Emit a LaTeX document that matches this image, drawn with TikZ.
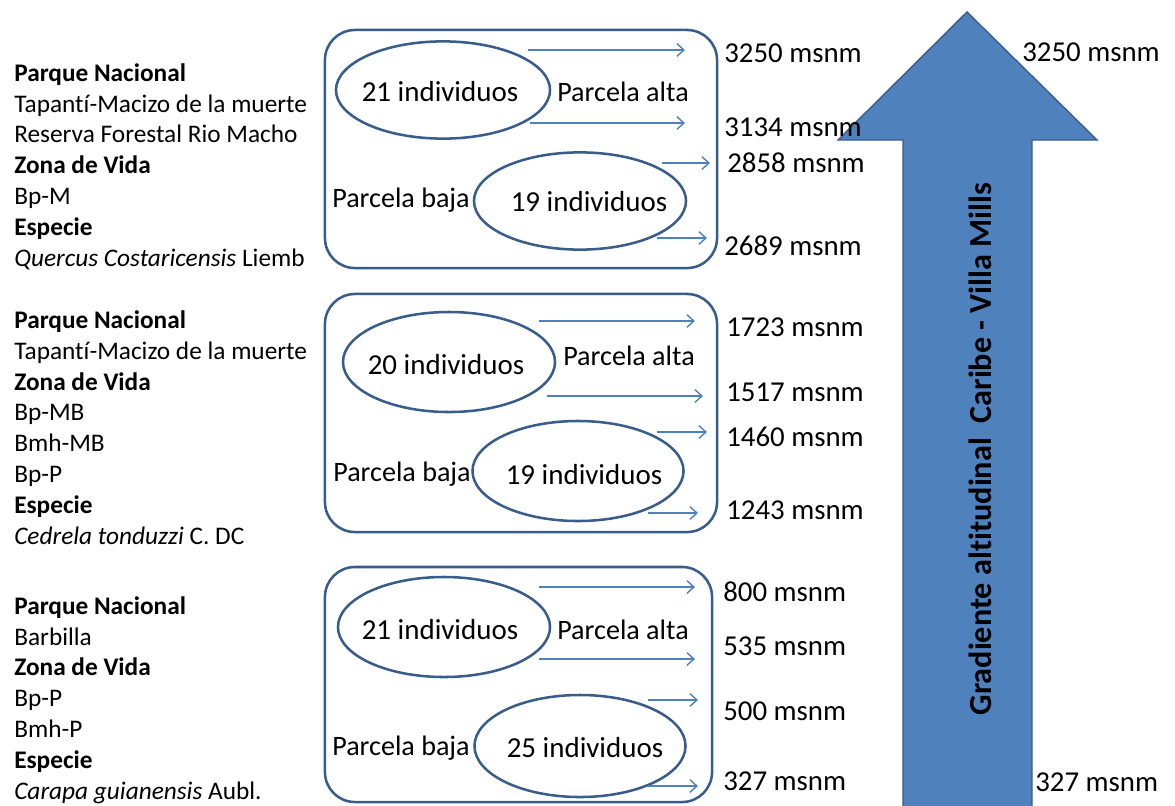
\documentclass[tikz,border=0pt]{standalone}
\usepackage{fontspec}
\setmainfont{Carlito}[Ligatures=NoCommon]
\usepackage{tikz}
\usetikzlibrary{shapes,arrows.meta,positioning}

\definecolor{boxblue}{HTML}{385D8A}
\definecolor{flowblue}{HTML}{4F81BD}
\definecolor{gradfill}{HTML}{4F81BD}

\begin{document}
\begin{tikzpicture}[
    x=0.025cm, y=-0.025cm,
    every node/.style={inner sep=0pt},
    zone/.style={rectangle, draw=boxblue, line width=1.8pt, rounded corners=0.75cm},
    plot/.style={ellipse, draw=boxblue, line width=1.8pt, minimum width=5.3cm, minimum height=2.5cm},
    txt/.style={font=\fontsize{20}{24}\selectfont},
    ind/.style={font=\fontsize{20.6}{25}\selectfont},
    alt/.style={anchor=west, font=\fontsize{20.5}{24}\selectfont},
    info/.style={anchor=base west, align=left, font=\fontsize{18}{21.9}\selectfont},
    flow/.style={draw=flowblue, line width=1pt, -{Straight Barb[length=5pt,width=9pt]}},
    gradarrow/.style={fill=gradfill, draw=boxblue, line width=1pt, line join=miter}
]
\useasboundingbox (0,0) rectangle (1175,805);

% gradient arrow
\draw[gradarrow] (903,810) -- (903,140) -- (838,140) -- (967,12) -- (1097,140)
    -- (1032,140) -- (1032,810) -- cycle;
\node[rotate=90, anchor=base, font=\fontsize{22.9}{27}\selectfont\bfseries] (grad) at (991,449)
    {Gradiente altitudinal~ Caribe - Villa Mills};

% left descriptions (anchored on their last line)
\node[info] (desc1) at (14,266) {\textbf{Parque Nacional}\\Tapantí-Macizo de la muerte\\Reserva Forestal Rio Macho\\
    \textbf{Zona de Vida}\\Bp-M\\\textbf{Especie}\\\textit{Quercus Costaricensis} Liemb};
\node[info] (desc2) at (14,544) {\textbf{Parque Nacional}\\Tapantí-Macizo de la muerte\\\textbf{Zona de Vida}\\
    Bp-MB\\Bmh-MB\\Bp-P\\\textbf{Especie}\\\textit{Cedrela tonduzzi} C. DC};
\node[info] (desc3) at (14,799) {\textbf{Parque Nacional}\\Barbilla\\\textbf{Zona de Vida}\\
    Bp-P\\Bmh-P\\\textbf{Especie}\\\textit{Carapa guianensis} Aubl.};

% plot boxes
\node[zone, minimum width=9.8cm, minimum height=5.95cm] (zone1) at (521,149) {};
\node[zone, minimum width=9.8cm, minimum height=5.95cm] (zone2) at (521,413) {};
\node[zone, minimum width=9.675cm, minimum height=5.875cm] (zone3) at (518.5,684.5) {};

\node[plot, minimum width=5.35cm, minimum height=2.43cm] (top1) at (443,90) {};
\node[plot, minimum height=2.43cm] (low1) at (580,201) {};
\node[plot] (top2) at (449,362) {};
\node[plot, minimum width=5.275cm] (low2) at (578,471) {};
\node[plot] (top3) at (444,627) {};
\node[plot, minimum width=5.275cm, minimum height=2.55cm] (low3) at (580,746) {};

\node[ind] (ind1) at (440,92) {21 individuos};
\node[ind] (ind2) at (589,202) {19 individuos};
\node[ind] (ind3) at (446,365) {20 individuos};
\node[ind] (ind4) at (584,475) {19 individuos};
\node[ind] (ind5) at (440,630) {21 individuos};
\node[ind] (ind6) at (585,748) {25 individuos};

\node[txt] (alta1) at (623,92) {Parcela alta};
\node[txt] (baja1) at (401,200) {Parcela baja};
\node[txt] (alta2) at (629,356) {Parcela alta};
\node[txt] (baja2) at (402,474) {Parcela baja};
\node[txt] (alta3) at (623,630) {Parcela alta};
\node[txt] (baja3) at (401,748) {Parcela baja};

% altitude arrows
\foreach \n/\xa/\xb/\y in {1/528/685/50, 2/530/685/123, 3/662/710/163, 4/657/707/238,
    5/539/695/321, 6/547/703/396, 7/657/707/432, 8/648/698/513,
    9/539/695/587, 10/539/695/659, 11/648/698/700, 12/648/698/786}{
  \coordinate (s\n) at (\xa,\y);
  \coordinate (e\n) at (\xb,\y);
  \draw[flow] (s\n) -- (e\n);
}

% altitudes
\node[alt] (h3250) at (724,53) {3250 msnm};
\node[alt] (h3134) at (724,127) {3134 msnm};
\node[alt] (h2858) at (727,163) {2858 msnm};
\node[alt] (h2689) at (724,246) {2689 msnm};
\node[alt] (h1723) at (726,327) {1723 msnm};
\node[alt] (h1517) at (726,392) {1517 msnm};
\node[alt] (h1460) at (726,437) {1460 msnm};
\node[alt] (h1243) at (726,510) {1243 msnm};
\node[alt] (h800) at (723,592) {800 msnm};
\node[alt] (h535) at (723,646) {535 msnm};
\node[alt] (h500) at (723,711) {500 msnm};
\node[alt] (h327) at (723,781) {327 msnm};

\node[alt] (top) at (1022,52) {3250 msnm};
\node[alt] (bottom) at (1035,782) {327 msnm};

\end{tikzpicture}
\end{document}
